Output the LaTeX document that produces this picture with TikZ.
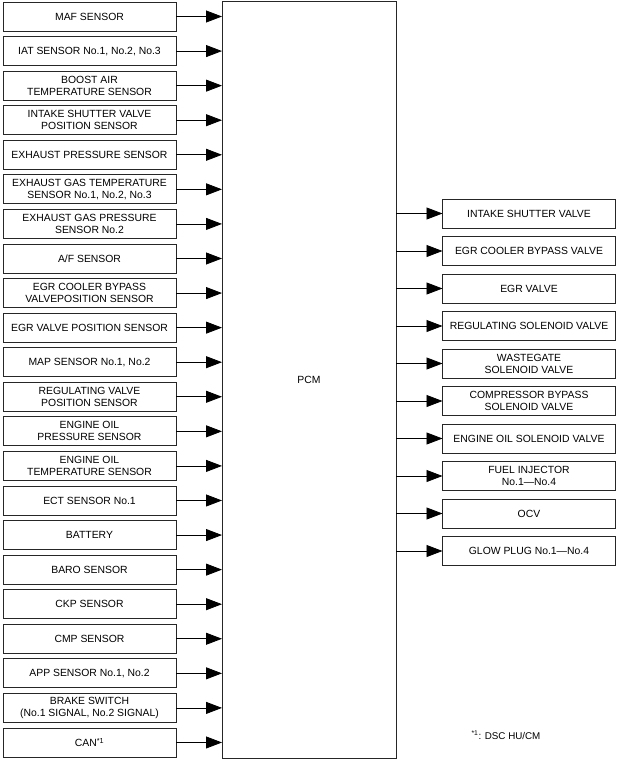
\documentclass[tikz,border=0pt]{standalone}
\usepackage{fontspec}
\setmainfont{Liberation Sans}
\usetikzlibrary{positioning,arrows.meta}

\begin{document}
\begin{tikzpicture}[
  x=1pt, y=1pt,
  font=\fontsize{10.4}{12}\selectfont,
  box/.style={draw=black!85, line width=0.8pt, align=center, inner sep=1pt, outer sep=0pt,
              minimum height=29pt, minimum width=173pt},
  unit/.style={draw=black!85, line width=0.8pt, outer sep=0pt,
               minimum width=174pt, minimum height=757pt},
  arr/.style={-{Triangle[length=16pt, width=12pt]}, line width=0.8pt},
]
\useasboundingbox (0,0) rectangle (617,-760);
\node[unit] (pcm) at (309,-379.5) {PCM};
% inputs
\node[box] (maf) at (89.5,-16.5) {MAF SENSOR};
\node[box, below=5.57pt of maf] (iat) {IAT SENSOR No.1, No.2, No.3};
\node[box, below=5.57pt of iat] (boost) {BOOST AIR\\TEMPERATURE SENSOR};
\node[box, below=5.57pt of boost] (isvpos) {INTAKE SHUTTER VALVE\\POSITION SENSOR};
\node[box, below=5.57pt of isvpos] (exhp) {EXHAUST PRESSURE SENSOR};
\node[box, below=5.57pt of exhp] (egt) {EXHAUST GAS TEMPERATURE\\SENSOR No.1, No.2, No.3};
\node[box, below=5.57pt of egt] (egp) {EXHAUST GAS PRESSURE\\SENSOR No.2};
\node[box, below=5.57pt of egp] (af) {A/F SENSOR};
\node[box, below=5.57pt of af] (egrbpos) {EGR COOLER BYPASS\\VALVEPOSITION SENSOR};
\node[box, below=5.57pt of egrbpos] (egrpos) {EGR VALVE POSITION SENSOR};
\node[box, below=5.57pt of egrpos] (map) {MAP SENSOR No.1, No.2};
\node[box, below=5.57pt of map] (regpos) {REGULATING VALVE\\POSITION SENSOR};
\node[box, below=5.57pt of regpos] (oilp) {ENGINE OIL\\PRESSURE SENSOR};
\node[box, below=5.57pt of oilp] (oilt) {ENGINE OIL\\TEMPERATURE SENSOR};
\node[box, below=5.57pt of oilt] (ect) {ECT SENSOR No.1};
\node[box, below=5.57pt of ect] (batt) {BATTERY};
\node[box, below=5.57pt of batt] (baro) {BARO SENSOR};
\node[box, below=5.57pt of baro] (ckp) {CKP SENSOR};
\node[box, below=5.57pt of ckp] (cmp) {CMP SENSOR};
\node[box, below=5.57pt of cmp] (app) {APP SENSOR No.1, No.2};
\node[box, below=5.57pt of app] (brake) {BRAKE SWITCH\\(No.1 SIGNAL, No.2 SIGNAL)};
\node[box, below=5.57pt of brake] (can) {CAN\textsuperscript{*1}};
% outputs
\node[box] (isv) at (529,-213.5) {INTAKE SHUTTER VALVE};
\node[box, below=8.5pt of isv] (egrbp) {EGR COOLER BYPASS VALVE};
\node[box, below=8.5pt of egrbp] (egr) {EGR VALVE};
\node[box, below=8.5pt of egr] (regsv) {REGULATING SOLENOID VALVE};
\node[box, below=8.5pt of regsv] (wgsv) {WASTEGATE\\SOLENOID VALVE};
\node[box, below=8.5pt of wgsv] (cbsv) {COMPRESSOR BYPASS\\SOLENOID VALVE};
\node[box, below=8.5pt of cbsv] (oilsv) {ENGINE OIL SOLENOID VALVE};
\node[box, below=8.5pt of oilsv] (inj) {FUEL INJECTOR\\No.1—No.4};
\node[box, below=8.5pt of inj] (ocv) {OCV};
\node[box, below=8.5pt of ocv] (glow) {GLOW PLUG No.1—No.4};
\node[anchor=west, font=\fontsize{9.8}{11}\selectfont] (note) at (468,-735)
  {\textsuperscript{*1}: DSC HU/CM};
\draw[arr] (maf) -- (maf -| pcm.west);
\draw[arr] (iat) -- (iat -| pcm.west);
\draw[arr] (boost) -- (boost -| pcm.west);
\draw[arr] (isvpos) -- (isvpos -| pcm.west);
\draw[arr] (exhp) -- (exhp -| pcm.west);
\draw[arr] (egt) -- (egt -| pcm.west);
\draw[arr] (egp) -- (egp -| pcm.west);
\draw[arr] (af) -- (af -| pcm.west);
\draw[arr] (egrbpos) -- (egrbpos -| pcm.west);
\draw[arr] (egrpos) -- (egrpos -| pcm.west);
\draw[arr] (map) -- (map -| pcm.west);
\draw[arr] (regpos) -- (regpos -| pcm.west);
\draw[arr] (oilp) -- (oilp -| pcm.west);
\draw[arr] (oilt) -- (oilt -| pcm.west);
\draw[arr] (ect) -- (ect -| pcm.west);
\draw[arr] (batt) -- (batt -| pcm.west);
\draw[arr] (baro) -- (baro -| pcm.west);
\draw[arr] (ckp) -- (ckp -| pcm.west);
\draw[arr] (cmp) -- (cmp -| pcm.west);
\draw[arr] (app) -- (app -| pcm.west);
\draw[arr] (brake) -- (brake -| pcm.west);
\draw[arr] (can) -- (can -| pcm.west);
\draw[arr] (pcm.east |- isv) -- (isv);
\draw[arr] (pcm.east |- egrbp) -- (egrbp);
\draw[arr] (pcm.east |- egr) -- (egr);
\draw[arr] (pcm.east |- regsv) -- (regsv);
\draw[arr] (pcm.east |- wgsv) -- (wgsv);
\draw[arr] (pcm.east |- cbsv) -- (cbsv);
\draw[arr] (pcm.east |- oilsv) -- (oilsv);
\draw[arr] (pcm.east |- inj) -- (inj);
\draw[arr] (pcm.east |- ocv) -- (ocv);
\draw[arr] (pcm.east |- glow) -- (glow);
\end{tikzpicture}
\end{document}
